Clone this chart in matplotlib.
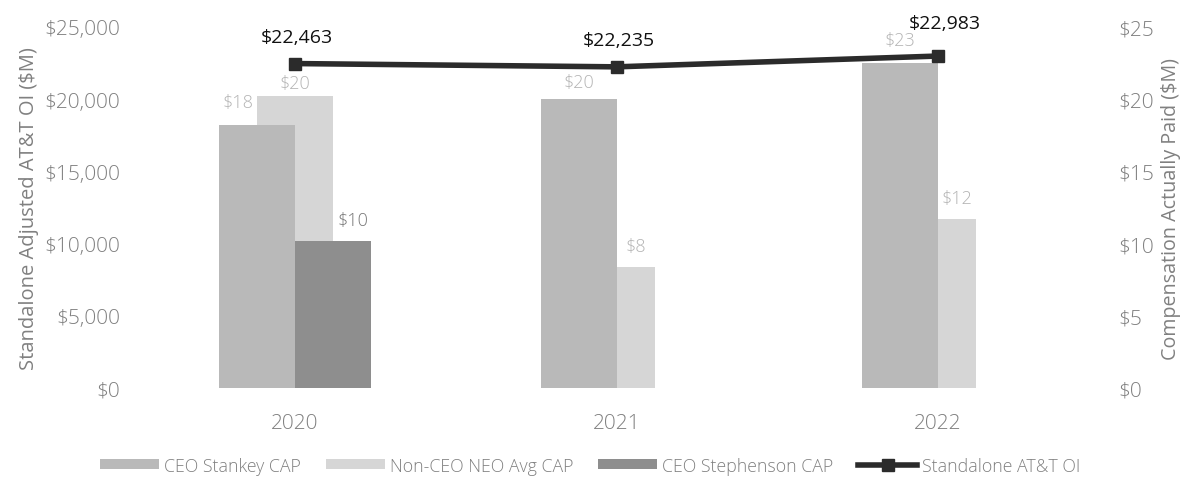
import matplotlib
matplotlib.use("Agg")
import matplotlib.pyplot as plt
from matplotlib.ticker import FuncFormatter
import numpy as np

years = ["2020", "2021", "2022"]
stankey_cap = [18.2, 20.0, 22.5]
non_ceo_cap = [20.2, 8.4, 11.7]
stephenson_cap = [10.2, None, None]
oi = [22463, 22235, 22983]

stankey_lbl = ["$18", "$20", "$23"]
non_ceo_lbl = ["$20", "$8", "$12"]
stephenson_lbl = ["$10", None, None]
oi_lbl = ["$22,463", "$22,235", "$22,983"]

plt.rcParams['font.family'] = ['Open Sans', 'DejaVu Sans']
plt.rcParams['font.weight'] = 'light'

c_stankey = "#b9b9b9"
c_non = "#d6d6d6"
c_steph = "#8e8e8e"
c_line = "#2b2b2b"
tick_c = "#808080"

fig = plt.figure(figsize=(11.88, 4.81), dpi=100)
ax = fig.add_axes([0.113, 0.191, 0.812, 0.751])  # bars (right axis)
ax2 = ax.twinx()  # line (left axis)

x = np.arange(len(years))
w = 0.236
off = w / 2

# bars
ax.bar(x, non_ceo_cap, w, color=c_non, zorder=1, label="Non-CEO NEO Avg CAP")
ax.bar(x - off, stankey_cap, w, color=c_stankey, zorder=2, label="CEO Stankey CAP")
sx = [xi + off for xi, v in zip(x, stephenson_cap) if v is not None]
sv = [v for v in stephenson_cap if v is not None]
ax.bar(sx, sv, w, color=c_steph, zorder=2, label="CEO Stephenson CAP")

ax.set_xlim(-0.5, 2.5)
ax.set_ylim(0, 25)
ax.set_yticks([0, 5, 10, 15, 20, 25])
ax.yaxis.tick_right()
ax.yaxis.set_label_position('right')
ax.yaxis.set_major_formatter(FuncFormatter(lambda v, p: f"${v:,.0f}"))
ax.set_ylabel("Compensation Actually Paid ($M)", color=tick_c, fontsize=14.2, labelpad=5)
ax.set_xticks(x)
ax.set_xticklabels(years)

# bar labels
lbl_c = "#b4b4b4"
for i in range(3):
    ax.annotate(stankey_lbl[i], (x[i] - off, stankey_cap[i]), xytext=(-19 if i == 0 else 0, 14 if i != 1 else 8),
                textcoords='offset pixels', ha='center', va='bottom', color=lbl_c, fontsize=13)
    dx = 0 if i == 0 else 19
    ax.annotate(non_ceo_lbl[i], (x[i], non_ceo_cap[i]), xytext=(dx, 4 if i == 0 else 12),
                textcoords='offset pixels', ha='center', va='bottom', color=lbl_c, fontsize=13)
for xi, v, l in zip(x, stephenson_cap, stephenson_lbl):
    if v is not None:
        ax.annotate(l, (xi + off, v), xytext=(20, 12), textcoords='offset pixels',
                    ha='center', va='bottom', color="#777777", fontsize=13)

# line
ax2.plot(x, oi, color=c_line, lw=4, marker='s', ms=9, zorder=5, label="Standalone AT&T OI")
ax2.set_ylim(0, 25000)
ax2.set_yticks([0, 5000, 10000, 15000, 20000, 25000])
ax2.yaxis.tick_left()
ax2.yaxis.set_label_position('left')
ax2.yaxis.set_major_formatter(FuncFormatter(lambda v, p: f"${v:,.0f}"))
ax2.set_ylabel("Standalone Adjusted AT&T OI ($M)", color=tick_c, fontsize=14.5, labelpad=4)
for i in range(3):
    ax2.annotate(oi_lbl[i], (x[i], oi[i]), xytext=(2 if i < 2 else 7, 18 if i < 2 else 24),
                 textcoords='offset pixels', ha='center', va='bottom', color="#111111",
                 fontsize=14, fontweight='normal')

for a in (ax, ax2):
    for s in a.spines.values():
        s.set_visible(False)
ax.tick_params(axis='y', length=0, labelsize=15, labelcolor=tick_c, pad=14)
ax2.tick_params(axis='y', length=0, labelsize=15, labelcolor=tick_c, pad=10)
ax.tick_params(axis='x', length=0, labelsize=15, labelcolor=tick_c, pad=18)

h1, l1 = ax.get_legend_handles_labels()
h2, l2 = ax2.get_legend_handles_labels()
order = [1, 0, 2]
handles = [h1[i] for i in order] + h2
labels = [l1[i] for i in order] + l2
leg = fig.legend(handles, labels, loc='center', bbox_to_anchor=(0.497, 0.03), ncol=4, frameon=False,
                 fontsize=12.8, labelcolor=tick_c, handlelength=3.3, handleheight=0.5,
                 handletextpad=0.3, columnspacing=1.4)

fig.savefig("out.png", dpi=100)
